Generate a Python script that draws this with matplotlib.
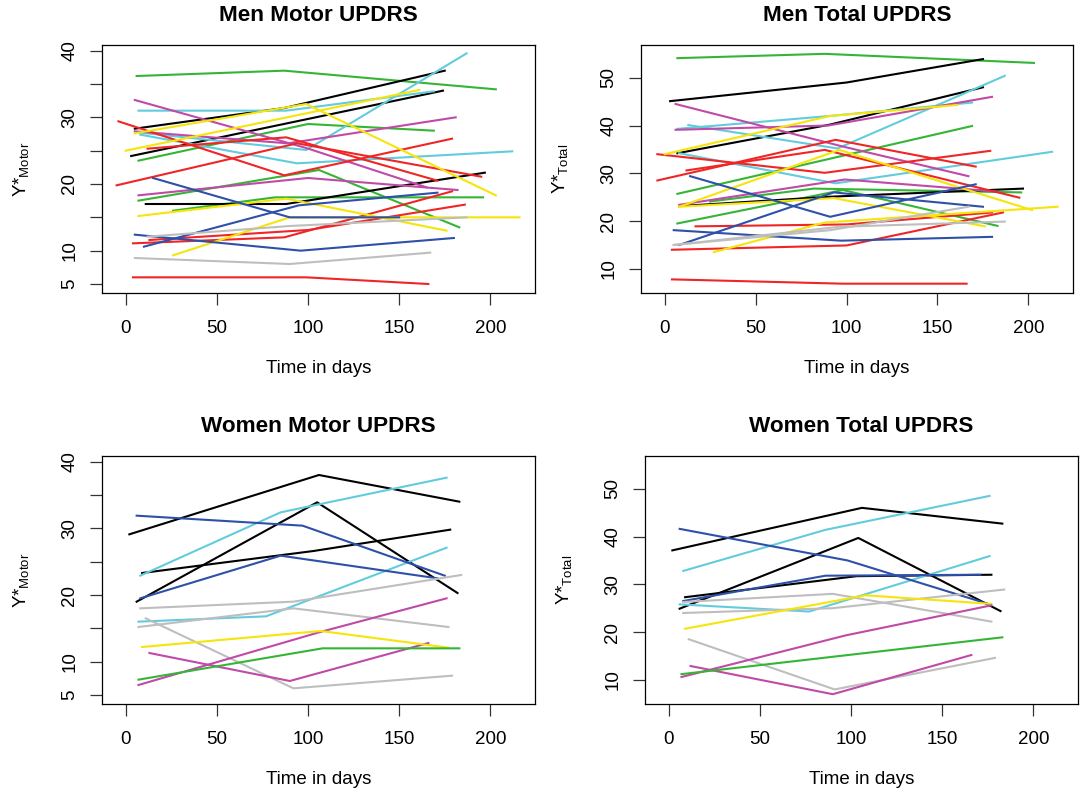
import matplotlib
matplotlib.use("Agg")
import matplotlib.pyplot as plt

plt.rcParams['font.family'] = ['Liberation Sans', 'DejaVu Sans']
plt.rcParams['mathtext.default'] = 'regular'

# subject colours (R-like palette)
pal = {'k': '#000000', 'r': '#F02525', 'g': '#35B535', 'b': '#2E50A8',
       'c': '#62CCDD', 'm': '#C04AA8', 'y': '#F5E50A', 'e': '#BEBEBE'}

titles = ['Men Motor UPDRS', 'Men Total UPDRS', 'Women Motor UPDRS', 'Women Total UPDRS']

# ---- Men, motor score: (days, values) per subject
men_motor = [
    ([6, 87, 203], [36.2, 37.0, 34.2]),
    ([7, 100, 169], [23.5, 29.0, 28.0]),
    ([7, 106, 183], [17.5, 22.1, 13.5]),
    ([26, 82, 196], [16.0, 18.0, 18.0]),
    ([5, 87, 175], [28.3, 31.4, 37.0]),
    ([3, 174], [24.2, 34.0]),
    ([11, 88, 197], [17.0, 17.0, 21.7]),
    ([7, 88, 169], [31.0, 31.0, 33.9]),
    ([8, 94, 212], [27.4, 23.1, 24.9]),
    ([8, 99, 187], [27.7, 25.1, 39.6]),
    ([5, 99, 165], [32.6, 25.4, 19.5]),
    ([5, 89, 181], [27.9, 26.1, 30.0]),
    ([7, 100, 182], [18.3, 20.9, 19.1]),
    ([-4, 87, 179], [29.4, 21.3, 26.8]),
    ([12, 88, 171], [25.3, 27.0, 20.5]),
    ([-5, 94, 195], [19.8, 26.1, 21.1]),
    ([4, 87, 179], [11.1, 12.0, 18.9]),
    ([13, 100, 186], [11.6, 13.1, 16.9]),
    ([4, 99, 166], [6.0, 6.0, 5.0]),
    ([0, 161], [25.0, 34.1]),
    ([5, 99, 203], [27.6, 32.0, 18.3]),
    ([7, 88, 176], [15.2, 17.8, 13.0]),
    ([26, 90, 216], [9.3, 15.0, 15.0]),
    ([15, 90, 150], [20.9, 15.0, 15.0]),
    ([10, 95, 171], [10.6, 16.8, 18.7]),
    ([5, 96, 180], [12.4, 10.0, 11.9]),
    ([12, 90, 187], [12.1, 13.7, 15.0]),
    ([5, 90, 167], [8.9, 8.0, 9.7]),
]
men_motor_col = ['g', 'g', 'g', 'g', 'k', 'k', 'k', 'c', 'c', 'c', 'm', 'm', 'm',
                 'r', 'r', 'r', 'r', 'r', 'r', 'y', 'y', 'y', 'y', 'b', 'b', 'b', 'e', 'e']

# ---- Men, total score
men_total = [
    ([7, 88, 203], [54.1, 55.0, 53.1]),
    ([7, 169], [25.7, 39.9]),
    ([7, 98, 183], [19.5, 26.5, 19.0]),
    ([25, 82, 196], [24.1, 26.8, 26.0]),
    ([3, 100, 175], [45.1, 49.0, 53.9]),
    ([7, 91, 175], [34.2, 40.2, 48.0]),
    ([11, 91, 197], [23.2, 25.1, 26.8]),
    ([13, 95, 187], [40.1, 35.2, 50.4]),
    ([7, 91, 169], [39.3, 42.0, 44.8]),
    ([8, 94, 213], [34.2, 27.9, 34.5]),
    ([6, 98, 167], [44.5, 35.6, 29.4]),
    ([6, 90, 180], [39.1, 40.0, 46.0]),
    ([8, 99, 182], [23.4, 28.7, 26.2]),
    ([-4, 88, 179], [34.0, 30.1, 34.7]),
    ([-4, 94, 171], [28.5, 37.0, 31.4]),
    ([12, 88, 195], [30.6, 34.9, 24.9]),
    ([4, 100, 186], [14.0, 14.9, 21.8]),
    ([17, 100, 180], [18.9, 19.3, 21.8]),
    ([4, 98, 166], [7.8, 6.9, 6.9]),
    ([0, 91, 161], [34.0, 42.0, 44.3]),
    ([8, 96, 202], [23.0, 34.9, 22.3]),
    ([27, 88, 216], [13.5, 19.7, 23.0]),
    ([8, 93, 176], [23.0, 24.8, 18.9]),
    ([14, 91, 171], [29.4, 20.9, 27.7]),
    ([8, 93, 175], [15.0, 26.0, 23.0]),
    ([5, 97, 180], [18.1, 15.9, 16.7]),
    ([5, 91, 167], [15.0, 18.1, 23.0]),
    ([5, 96, 187], [15.0, 18.8, 19.9]),
]
men_total_col = ['g', 'g', 'g', 'g', 'k', 'k', 'k', 'c', 'c', 'c', 'm', 'm', 'm',
                 'r', 'r', 'r', 'r', 'r', 'r', 'y', 'y', 'y', 'y', 'b', 'b', 'b', 'e', 'e']

# ---- Women, motor score
women_motor = [
    ([2, 106, 183], [29.1, 38.0, 34.0]),
    ([6, 105, 182], [19.0, 33.9, 20.3]),
    ([9, 103, 178], [23.3, 26.6, 29.8]),
    ([8, 85, 176], [22.9, 32.4, 37.6]),
    ([7, 77, 176], [16.0, 16.8, 27.1]),
    ([6, 97, 175], [31.9, 30.4, 22.9]),
    ([8, 85, 171], [19.5, 25.9, 22.5]),
    ([8, 92, 184], [18.0, 19.0, 23.0]),
    ([7, 92, 177], [15.2, 18.0, 15.2]),
    ([11, 92, 179], [16.5, 6.0, 7.9]),
    ([7, 106, 176], [6.5, 14.4, 19.5]),
    ([13, 90, 166], [11.3, 7.1, 12.8]),
    ([9, 107, 177], [12.2, 14.6, 12.1]),
    ([7, 108, 183], [7.3, 12.0, 12.0]),
]
women_motor_col = ['k', 'k', 'k', 'c', 'c', 'b', 'b', 'e', 'e', 'e', 'm', 'm', 'y', 'g']

# ---- Women, total score
women_total = [
    ([2, 106, 183], [37.1, 46.0, 42.7]),
    ([6, 104, 182], [24.9, 39.7, 24.4]),
    ([9, 103, 177], [27.3, 31.7, 32.0]),
    ([8, 86, 176], [32.8, 41.4, 48.5]),
    ([6, 77, 176], [25.8, 24.3, 35.9]),
    ([6, 98, 176], [41.6, 35.0, 25.8]),
    ([8, 86, 171], [26.5, 31.8, 32.0]),
    ([8, 90, 184], [24.0, 25.0, 28.9]),
    ([8, 90, 177], [26.3, 28.0, 22.2]),
    ([11, 91, 179], [18.5, 8.0, 14.6]),
    ([9, 108, 177], [20.7, 27.7, 25.9]),
    ([7, 97, 177], [10.6, 19.3, 25.6]),
    ([12, 90, 166], [12.9, 7.0, 15.2]),
    ([7, 183], [11.2, 18.9]),
]
women_total_col = ['k', 'k', 'k', 'c', 'c', 'b', 'b', 'e', 'e', 'e', 'y', 'm', 'm', 'g']

panels = [(men_motor, men_motor_col), (men_total, men_total_col),
          (women_motor, women_motor_col), (women_total, women_total_col)]

motor_ticks = [5, 10, 15, 20, 25, 30, 35, 40]
motor_labels = ['5', '10', '', '20', '', '30', '', '40']
total_ticks = [10, 20, 30, 40, 50]
x_ticks = [0, 50, 100, 150, 200]

fig = plt.figure(figsize=(10.82, 7.92), dpi=100)
W, H = 1082, 792
boxes = [(102, 45, 535, 293), (641, 45, 1073, 293),
         (102, 456, 535, 704), (645, 456, 1078, 704)]

for i, ((data, cols), (x0, y0, x1, y1)) in enumerate(zip(panels, boxes)):
    ax = fig.add_axes([x0 / W, 1 - y1 / H, (x1 - x0) / W, (y1 - y0) / H])
    for (d, v), c in zip(data, cols):
        ax.plot(d, v, color=pal[c], lw=1.5, solid_joinstyle='round')
    ax.set_xlim(-13, 224.5)
    ax.set_xticks(x_ticks)
    if i % 2 == 0:
        ax.set_ylim(3.65, 40.85)
        ax.set_yticks(motor_ticks)
        ax.set_yticklabels(motor_labels)
        ax.set_ylabel('Y*$_{Motor}$', fontsize=13.5)
    else:
        ax.set_ylim(4.95, 56.85)
        ax.set_yticks(total_ticks)
        ax.set_ylabel('Y*$_{Total}$', fontsize=13.5)
    for lab in ax.get_yticklabels():
        lab.set_rotation(90)
        lab.set_va('center')
    ax.tick_params(direction='out', length=8.5, width=0.9, labelsize=13.5, color='#333333')
    ax.tick_params(axis='x', pad=11)
    ax.tick_params(axis='y', pad=8.5)
    ax.set_xlabel('Time in days', fontsize=13.5)
    ax.xaxis.set_label_coords(0.5, -0.272)
    ax.yaxis.set_label_coords(-0.165, 0.5)
    ax.set_title(titles[i], fontsize=16.2, fontweight='bold', pad=17)
    for s in ax.spines.values():
        s.set_linewidth(0.9)

fig.savefig('out.png', dpi=100)
